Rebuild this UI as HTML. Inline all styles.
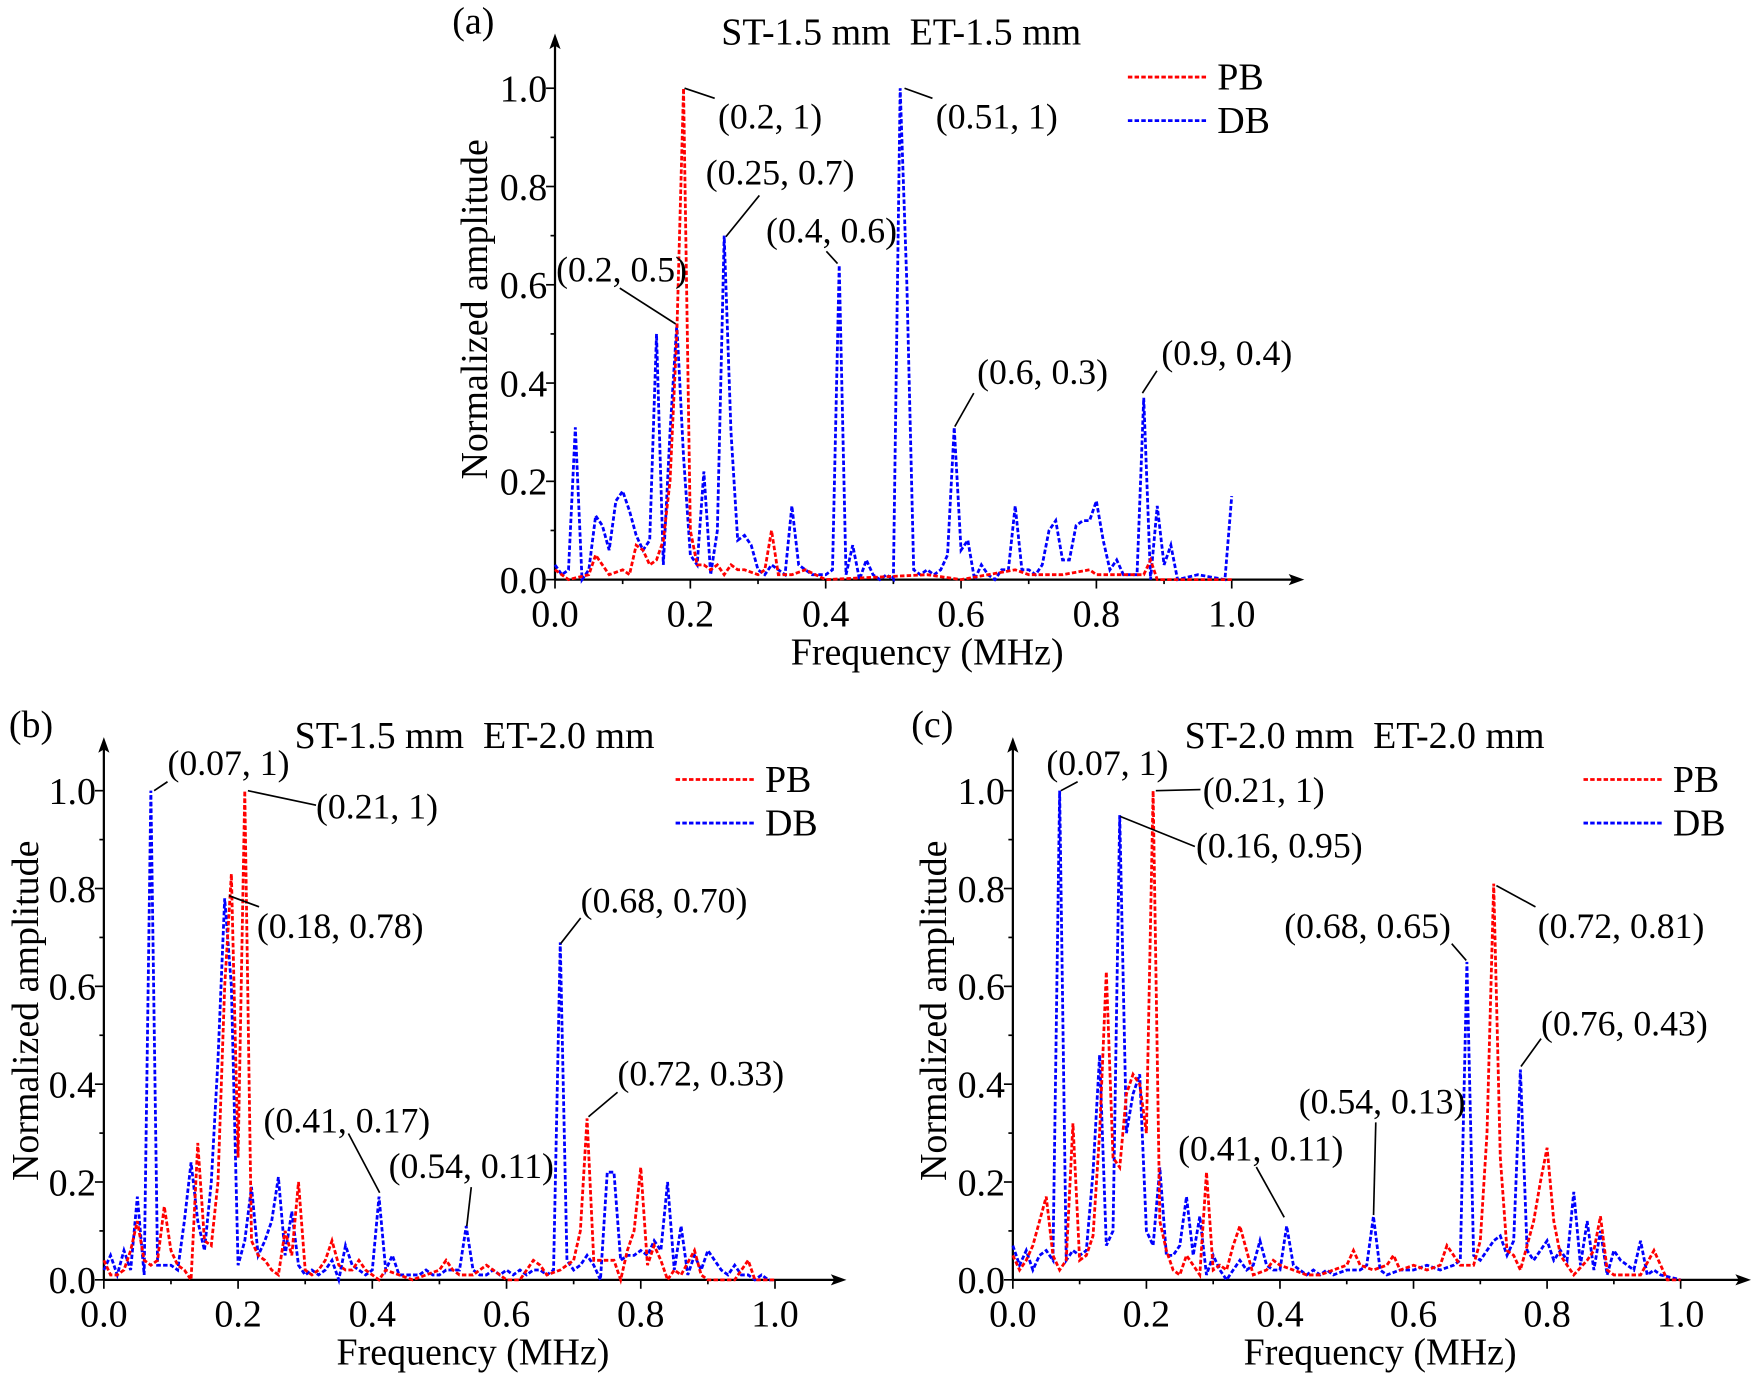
<!DOCTYPE html>
<html><head><meta charset="utf-8"><style>html,body{margin:0;padding:0;background:#fff}svg{display:block}text{font-family:"Liberation Serif",serif;font-size:34px;fill:#000}text.a{font-size:32px}</style></head>
<body>
<svg id="s" width="1751" height="1377" viewBox="0 0 1568 1233" preserveAspectRatio="none" xmlns="http://www.w3.org/2000/svg"></svg>
<script>
const S=document.getElementById('s');let h='';
function P(str){return str.split(';').map(p=>p.split(',').map(Number));}
function panel(o){
 const {ox,oy,xs,ys,ax,ay}=o;
 const X=f=>ox+f*xs,Y=a=>oy-a*ys;
 h+=`<line x1="${ox}" y1="${oy}" x2="${ax}" y2="${oy}" stroke="#000" stroke-width="2"/>`;
 h+=`<polygon points="${ax+8},${oy} ${ax-6},${oy-5} ${ax-3},${oy} ${ax-6},${oy+5}"/>`;
 h+=`<line x1="${ox}" y1="${oy}" x2="${ox}" y2="${ay}" stroke="#000" stroke-width="2"/>`;
 h+=`<polygon points="${ox},${ay-8} ${ox-5},${ay+6} ${ox},${ay+3} ${ox+5},${ay+6}"/>`;
 for(let i=0;i<=10;i++){const v=i/10,maj=i%2==0,l=maj?8:4;
  h+=`<line x1="${X(v)}" y1="${oy}" x2="${X(v)}" y2="${oy+l}" stroke="#000" stroke-width="1.5"/>`;
  h+=`<line x1="${ox}" y1="${Y(v)}" x2="${ox-l}" y2="${Y(v)}" stroke="#000" stroke-width="1.5"/>`;
  if(maj){h+=`<text x="${X(v)}" y="${oy+42}" text-anchor="middle">${v.toFixed(1)}</text>`;
   h+=`<text x="${ox-7}" y="${Y(v)+12}" text-anchor="end">${v.toFixed(1)}</text>`;}
 }
 h+=`<text x="${X(0.55)}" y="${oy+76}" text-anchor="middle">Frequency (MHz)</text>`;
 h+=`<text transform="translate(${o.ylx},${oy-0.55*ys}) rotate(-90)" text-anchor="middle">Normalized amplitude</text>`;
 h+=`<text x="${o.lab[1]}" y="${o.lab[2]}">${o.lab[0]}</text>`;
 h+=`<text x="${o.tt[1]}" y="${o.tt[2]}" text-anchor="middle" xml:space="preserve">${o.tt[0]}</text>`;
 const L=o.leg;
 h+=`<line x1="${L[0]}" y1="${L[1]}" x2="${L[0]+70}" y2="${L[1]}" stroke="#f00" stroke-width="2.5" stroke-dasharray="4 2"/><text x="${L[0]+80}" y="${L[1]+11}">PB</text>`;
 h+=`<line x1="${L[0]}" y1="${L[1]+39}" x2="${L[0]+70}" y2="${L[1]+39}" stroke="#00f" stroke-width="2.5" stroke-dasharray="4 2"/><text x="${L[0]+80}" y="${L[1]+50}">DB</text>`;
 for(const [d,c] of [[o.db,'#00f'],[o.pb,'#f00']]){
  h+=`<polyline fill="none" stroke="${c}" stroke-width="2.5" stroke-dasharray="4 2" points="${P(d).map(p=>X(p[0]).toFixed(1)+','+Y(p[1]).toFixed(1)).join(' ')}"/>`;}
 for(const a of o.ann){h+=`<text class="a" x="${a[1]}" y="${a[2]+2}">${a[0]}</text><line x1="${a[3]}" y1="${a[4]}" x2="${a[5]}" y2="${a[6]}" stroke="#000" stroke-width="1.5"/>`;}
}
panel({ox:497,oy:519,xs:606,ys:440,ax:1160,ay:38,ylx:436,lab:['(a)',405,30],tt:['ST-1.5 mm  ET-1.5 mm',807,40],leg:[1010,69],
db:'0,0.03;0.01,0.01;0.02,0.02;0.03,0.31;0.04,0.0;0.05,0.02;0.06,0.13;0.07,0.11;0.08,0.06;0.09,0.16;0.1,0.18;0.11,0.14;0.12,0.09;0.13,0.06;0.14,0.08;0.15,0.5;0.16,0.03;0.17,0.3;0.18,0.52;0.19,0.25;0.2,0.05;0.21,0.03;0.22,0.22;0.23,0.01;0.24,0.1;0.25,0.7;0.26,0.3;0.27,0.08;0.28,0.09;0.29,0.07;0.3,0.02;0.31,0.01;0.32,0.03;0.33,0.02;0.34,0.01;0.35,0.15;0.36,0.03;0.37,0.02;0.38,0.01;0.39,0.01;0.4,0.01;0.41,0.02;0.42,0.64;0.43,0.01;0.44,0.07;0.45,0.0;0.46,0.04;0.47,0.01;0.48,0.0;0.49,0.01;0.5,0.0;0.51,1.0;0.52,0.6;0.53,0.02;0.54,0.01;0.55,0.02;0.56,0.01;0.57,0.02;0.58,0.05;0.59,0.31;0.6,0.06;0.61,0.08;0.62,0.0;0.63,0.03;0.64,0.01;0.65,0.0;0.66,0.02;0.67,0.02;0.68,0.15;0.69,0.02;0.7,0.02;0.71,0.01;0.72,0.03;0.73,0.1;0.74,0.12;0.75,0.04;0.76,0.04;0.77,0.11;0.78,0.12;0.79,0.12;0.8,0.16;0.81,0.08;0.82,0.02;0.83,0.04;0.84,0.01;0.85,0.01;0.86,0.01;0.87,0.37;0.88,0.0;0.89,0.15;0.9,0.03;0.91,0.07;0.92,0.0;0.95,0.01;0.99,0.0;1.0,0.17',
pb:'0,0.02;0.02,0;0.05,0.01;0.06,0.05;0.08,0.01;0.1,0.02;0.11,0.01;0.12,0.07;0.13,0.06;0.14,0.03;0.15,0.04;0.16,0.08;0.17,0.2;0.18,0.5;0.19,1.0;0.2,0.1;0.21,0.03;0.22,0.03;0.23,0.02;0.24,0.03;0.25,0.01;0.26,0.03;0.27,0.02;0.28,0.02;0.3,0.01;0.31,0.02;0.32,0.1;0.33,0.01;0.35,0.01;0.37,0.02;0.4,0.0;0.55,0.01;0.6,0;0.68,0.02;0.7,0.01;0.75,0.01;0.79,0.02;0.8,0.01;0.85,0.01;0.87,0.01;0.88,0.04;0.89,0.0;1.0,0.0',
ann:[['(0.2, 1)',643,113,613,79,640,88],['(0.51, 1)',838,113,810,79,835,88],['(0.25, 0.7)',632,163,650,212,680,175],['(0.4, 0.6)',686,215,740,225,750,236],['(0.2, 0.5)',498,250,555,258,605,290],['(0.6, 0.3)',875,342,855,382,872,352],['(0.9, 0.4)',1040,325,1023,352,1036,332]]});
panel({ox:93,oy:1146,xs:601,ys:438,ax:750,ay:668,ylx:34,lab:['(b)',8,660],tt:['ST-1.5 mm  ET-2.0 mm',425,670],leg:[605,698],
db:'0,0.02;0.01,0.05;0.02,0.01;0.03,0.06;0.04,0.02;0.05,0.17;0.06,0.01;0.07,1.0;0.08,0.03;0.09,0.03;0.1,0.03;0.11,0.02;0.12,0.12;0.13,0.24;0.14,0.12;0.15,0.06;0.16,0.2;0.17,0.45;0.18,0.78;0.19,0.6;0.2,0.03;0.21,0.08;0.22,0.19;0.23,0.05;0.24,0.08;0.25,0.12;0.26,0.21;0.27,0.05;0.28,0.14;0.29,0.03;0.3,0.01;0.31,0.02;0.32,0.01;0.33,0.02;0.34,0.04;0.35,0.0;0.36,0.07;0.37,0.03;0.38,0.02;0.39,0.01;0.4,0.02;0.41,0.17;0.42,0.02;0.43,0.05;0.44,0.01;0.45,0.01;0.46,0.01;0.47,0.01;0.48,0.02;0.49,0.01;0.5,0.01;0.51,0.02;0.52,0.02;0.53,0.02;0.54,0.11;0.55,0.02;0.56,0.01;0.57,0.01;0.58,0.02;0.59,0.01;0.6,0.02;0.61,0.01;0.62,0.02;0.63,0.01;0.64,0.02;0.65,0.02;0.66,0.01;0.67,0.02;0.68,0.69;0.69,0.04;0.7,0.02;0.71,0.03;0.72,0.05;0.73,0.03;0.74,0.0;0.75,0.22;0.76,0.22;0.77,0.04;0.78,0.05;0.79,0.05;0.8,0.06;0.81,0.05;0.82,0.08;0.83,0.06;0.84,0.2;0.85,0.02;0.86,0.11;0.87,0.01;0.88,0.05;0.89,0.02;0.9,0.06;0.91,0.04;0.92,0.02;0.93,0.01;0.94,0.03;0.95,0.01;0.96,0.01;0.97,0.0;0.98,0.01;0.99,0.0;1.0,0',
pb:'0,0.04;0.01,0.01;0.02,0.01;0.03,0.02;0.04,0.06;0.05,0.12;0.06,0.04;0.07,0.03;0.08,0.04;0.09,0.15;0.1,0.06;0.11,0.03;0.12,0.02;0.13,0.0;0.14,0.28;0.15,0.08;0.16,0.07;0.17,0.2;0.18,0.6;0.19,0.83;0.2,0.25;0.21,1.0;0.22,0.08;0.23,0.05;0.24,0.04;0.25,0.02;0.26,0.01;0.27,0.1;0.28,0.05;0.29,0.2;0.3,0.02;0.31,0.01;0.32,0.02;0.33,0.04;0.34,0.08;0.35,0.03;0.36,0.02;0.37,0.02;0.38,0.04;0.39,0.02;0.4,0.01;0.41,0.0;0.42,0.02;0.44,0.01;0.46,0.0;0.48,0.01;0.5,0.02;0.51,0.04;0.52,0.02;0.53,0.01;0.55,0.01;0.57,0.03;0.58,0.02;0.6,0.0;0.62,0.0;0.64,0.04;0.65,0.03;0.66,0.01;0.68,0.02;0.7,0.04;0.71,0.1;0.72,0.33;0.73,0.04;0.74,0.04;0.76,0.04;0.77,0.0;0.78,0.06;0.79,0.1;0.8,0.23;0.81,0.03;0.82,0.07;0.83,0.04;0.84,0.0;0.85,0.02;0.86,0.01;0.88,0.06;0.89,0.01;0.9,0.0;0.94,0.0;0.96,0.04;0.97,0.0;1.0,0',
ann:[['(0.07, 1)',150,692,138,708,150,700],['(0.21, 1)',283,731,222,708,283,721],['(0.18, 0.78)',230,838,205,802,232,812],['(0.68, 0.70)',520,815,502,845,520,822],['(0.72, 0.33)',553,970,527,1000,553,978],['(0.41, 0.17)',236,1012,312,1015,340,1068],['(0.54, 0.11)',348,1053,418,1098,422,1063]]});
panel({ox:907,oy:1146,xs:598,ys:438,ax:1560,ay:668,ylx:847,lab:['(c)',816,660],tt:['ST-2.0 mm  ET-2.0 mm',1222,670],leg:[1418,698],
db:'0,0.07;0.01,0.03;0.02,0.06;0.03,0.02;0.04,0.05;0.05,0.06;0.06,0.04;0.07,1.0;0.08,0.04;0.09,0.06;0.1,0.05;0.11,0.06;0.12,0.22;0.13,0.46;0.14,0.07;0.15,0.1;0.16,0.95;0.17,0.3;0.18,0.38;0.19,0.42;0.2,0.1;0.21,0.07;0.22,0.23;0.23,0.05;0.24,0.05;0.25,0.07;0.26,0.17;0.27,0.05;0.28,0.13;0.29,0.01;0.3,0.05;0.31,0.02;0.32,0.0;0.33,0.02;0.34,0.04;0.35,0.02;0.36,0.03;0.37,0.08;0.38,0.03;0.39,0.02;0.4,0.02;0.41,0.11;0.42,0.03;0.43,0.02;0.44,0.01;0.45,0.02;0.46,0.01;0.47,0.02;0.48,0.01;0.5,0.02;0.52,0.02;0.53,0.03;0.54,0.13;0.55,0.02;0.56,0.01;0.58,0.02;0.6,0.02;0.62,0.03;0.64,0.02;0.66,0.03;0.67,0.04;0.68,0.65;0.69,0.05;0.7,0.04;0.71,0.06;0.72,0.08;0.73,0.09;0.74,0.05;0.75,0.08;0.76,0.43;0.77,0.06;0.78,0.04;0.79,0.06;0.8,0.08;0.81,0.04;0.82,0.06;0.83,0.04;0.84,0.18;0.85,0.03;0.86,0.12;0.87,0.02;0.88,0.1;0.89,0.01;0.9,0.06;0.91,0.04;0.92,0.03;0.93,0.02;0.94,0.08;0.95,0.01;0.96,0.02;0.97,0.01;1.0,0',
pb:'0,0.05;0.01,0.02;0.02,0.04;0.03,0.07;0.04,0.12;0.05,0.17;0.06,0.05;0.07,0.02;0.08,0.04;0.09,0.32;0.1,0.04;0.11,0.05;0.12,0.09;0.13,0.3;0.14,0.63;0.15,0.25;0.16,0.23;0.17,0.38;0.18,0.42;0.19,0.4;0.2,0.3;0.21,1.0;0.22,0.12;0.23,0.06;0.24,0.02;0.25,0.01;0.26,0.05;0.27,0.03;0.28,0.01;0.29,0.22;0.3,0.02;0.31,0.03;0.32,0.02;0.33,0.07;0.34,0.11;0.35,0.06;0.36,0.01;0.38,0.02;0.39,0.04;0.4,0.03;0.42,0.02;0.44,0.01;0.46,0.01;0.48,0.02;0.5,0.03;0.51,0.06;0.52,0.03;0.54,0.02;0.56,0.03;0.57,0.05;0.58,0.02;0.6,0.03;0.62,0.02;0.64,0.03;0.65,0.07;0.66,0.05;0.67,0.03;0.69,0.03;0.7,0.08;0.71,0.3;0.72,0.81;0.73,0.25;0.74,0.06;0.75,0.05;0.76,0.02;0.77,0.07;0.78,0.12;0.79,0.2;0.8,0.27;0.81,0.12;0.82,0.05;0.83,0.03;0.84,0.01;0.86,0.04;0.87,0.06;0.88,0.13;0.89,0.02;0.9,0.01;0.94,0.01;0.96,0.06;0.97,0.03;0.98,0.0;1.0,0',
ann:[['(0.07, 1)',937,692,950,708,965,700],['(0.21, 1)',1077,716,1035,708,1075,707],['(0.16, 0.95)',1071,766,1003,731,1070,758],['(0.68, 0.65)',1150,838,1300,845,1313,860],['(0.72, 0.81)',1377,838,1340,793,1375,812],['(0.76, 0.43)',1380,925,1362,955,1380,930],['(0.54, 0.13)',1163,995,1230,1088,1232,1005],['(0.41, 0.11)',1055,1037,1150,1090,1125,1045]]});
S.innerHTML=h;
</script>
</body></html>
